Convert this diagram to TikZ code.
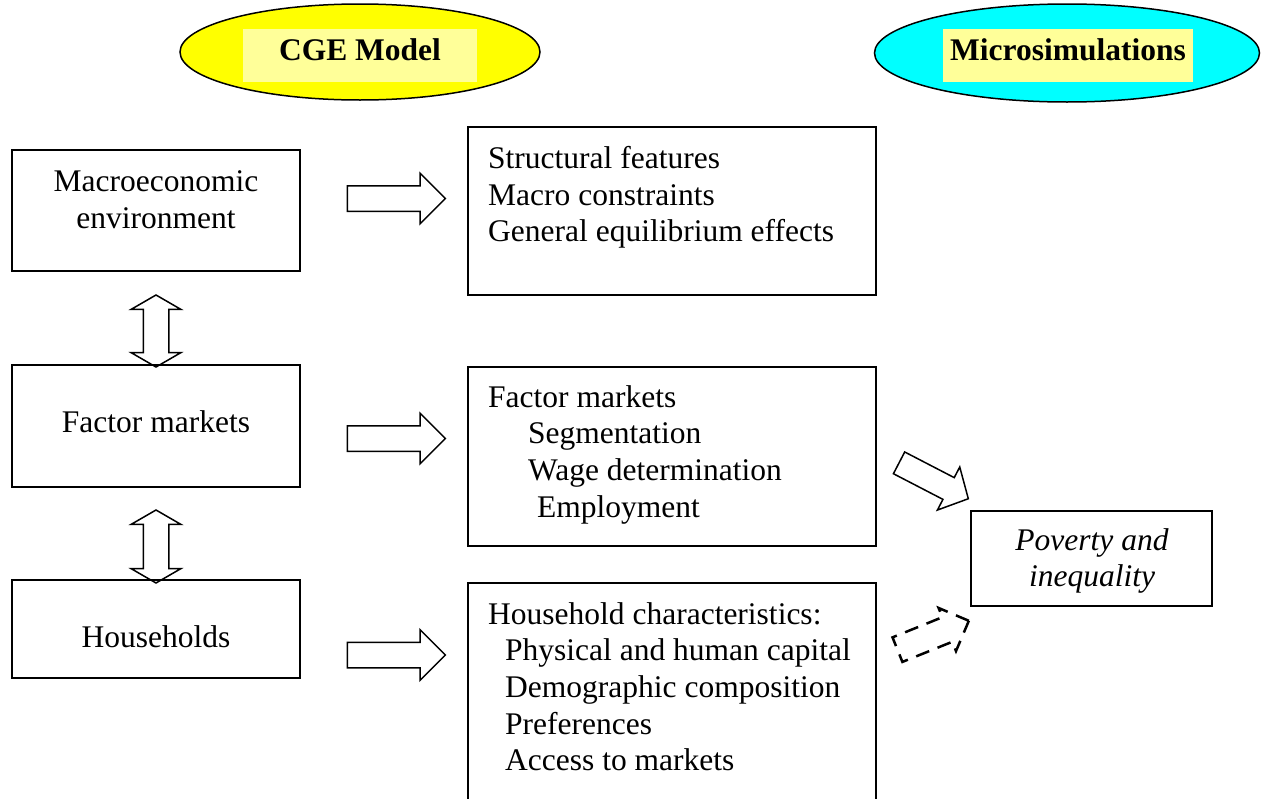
\documentclass[tikz,border=0pt]{standalone}
\usepackage{fontspec}
\setmainfont{Liberation Serif}
\usetikzlibrary{shapes,arrows}
\definecolor{paleyellow}{RGB}{255,255,153}
\definecolor{cgeyellow}{RGB}{255,255,0}
\definecolor{microcyan}{RGB}{0,255,255}
\tikzstyle{box} = [draw, line width=1.5pt, rectangle, inner sep=0pt]
\tikzstyle{txt} = [inner sep=0pt, font=\fontsize{31.5}{36.7}\selectfont, execute at begin node=\strut, execute at end node=\strut]
\tikzstyle{fat} = [draw, line width=1.5pt, single arrow, single arrow head extend=12.5pt, inner xsep=0pt, inner ysep=12pt, minimum height=98pt]
\tikzstyle{twoway} = [draw, line width=1.5pt, double arrow, double arrow head extend=12pt, double arrow tip angle=120, inner xsep=0pt, inner ysep=12pt, minimum height=72pt, rotate=90]
\tikzstyle{blob} = [draw, line width=1.5pt, ellipse, inner sep=0pt]
\tikzstyle{tag} = [fill=paleyellow, inner sep=0pt, minimum height=53pt, text height=21.5pt, text depth=12pt, font=\fontsize{31.5}{36.7}\selectfont\bfseries]

\begin{document}
\begin{tikzpicture}[x=1pt,y=-1pt]
    \useasboundingbox (0,0) rectangle (1266,798);
    \def \lx {156}
    \def \rx {672}

    % model headings
    \node[blob, fill=cgeyellow, minimum width=360pt, minimum height=96pt] (cge) at (360,52) {};
    \node[tag, minimum width=234pt] (cgename) at (360,55.5) {CGE Model};
    \node[blob, fill=microcyan, minimum width=385pt, minimum height=98pt] (micro) at (1067,53) {};
    \node[tag, minimum width=250pt] (microname) at (1068,55.5) {Microsimulations};

    % left column
    \node[box, minimum width=288pt, minimum height=121pt] (macro) at (\lx,210.5) {};
    \node[txt, align=center] (macrotxt) at (\lx,205) {Macroeconomic\\environment};
    \node[box, minimum width=288pt, minimum height=122pt] (factor) at (\lx,426) {};
    \node[txt] (factortxt) at (\lx,425) {Factor markets};
    \node[box, minimum width=288pt, minimum height=98pt] (house) at (\lx,629) {};
    \node[txt] (housetxt) at (\lx,640) {Households};

    \node[twoway] (up) at (\lx,331) {};
    \node[twoway, minimum height=73pt] (down) at (\lx,546.5) {};

    % right column
    \node[box, minimum width=408pt, minimum height=168pt] (struct) at (\rx,211) {};
    \node[txt, anchor=north west, align=left] (structtxt) at (488,146)
        {Structural features\\Macro constraints\\General equilibrium effects};
    \node[box, minimum width=408pt, minimum height=179pt] (flist) at (\rx,456.5) {};
    \node[txt, anchor=north west, align=left] (flisttxt) at (488,385)
        {Factor markets\\\hspace*{40pt}Segmentation\\\hspace*{40pt}Wage determination\\\hspace*{49pt}Employment};
    \node[box, minimum width=408pt, minimum height=229pt] (hlist) at (\rx,697.5) {};
    \node[txt, anchor=north west, align=left] (hlisttxt) at (488,602)
        {Household characteristics:\\\hspace*{17pt}Physical and human capital\\\hspace*{17pt}Demographic composition\\\hspace*{17pt}Preferences\\\hspace*{17pt}Access to markets};

    \node[fat] (a1) at (390,198.5) {};
    \node[fat] (a2) at (390,438.5) {};
    \node[fat] (a3) at (390,655) {};

    % outcome
    \node[box, minimum width=241pt, minimum height=95pt] (pov) at (1091.5,558.5) {};
    \node[txt, align=center, font=\fontsize{31.5}{36.7}\selectfont\itshape] (povtxt) at (1092,563) {Poverty and\\inequality};

    \node[fat, rotate=-27.4, minimum height=78pt, inner ysep=11.5pt, single arrow head extend=12pt, single arrow tip angle=95] (a4) at (928.7,478.2) {};
    \node[fat, dashed, dash pattern=on 14pt off 9pt, line width=2.5pt, rotate=22, minimum height=77pt, single arrow head extend=10pt] (a5) at (927,637.7) {};
\end{tikzpicture}
\end{document}
